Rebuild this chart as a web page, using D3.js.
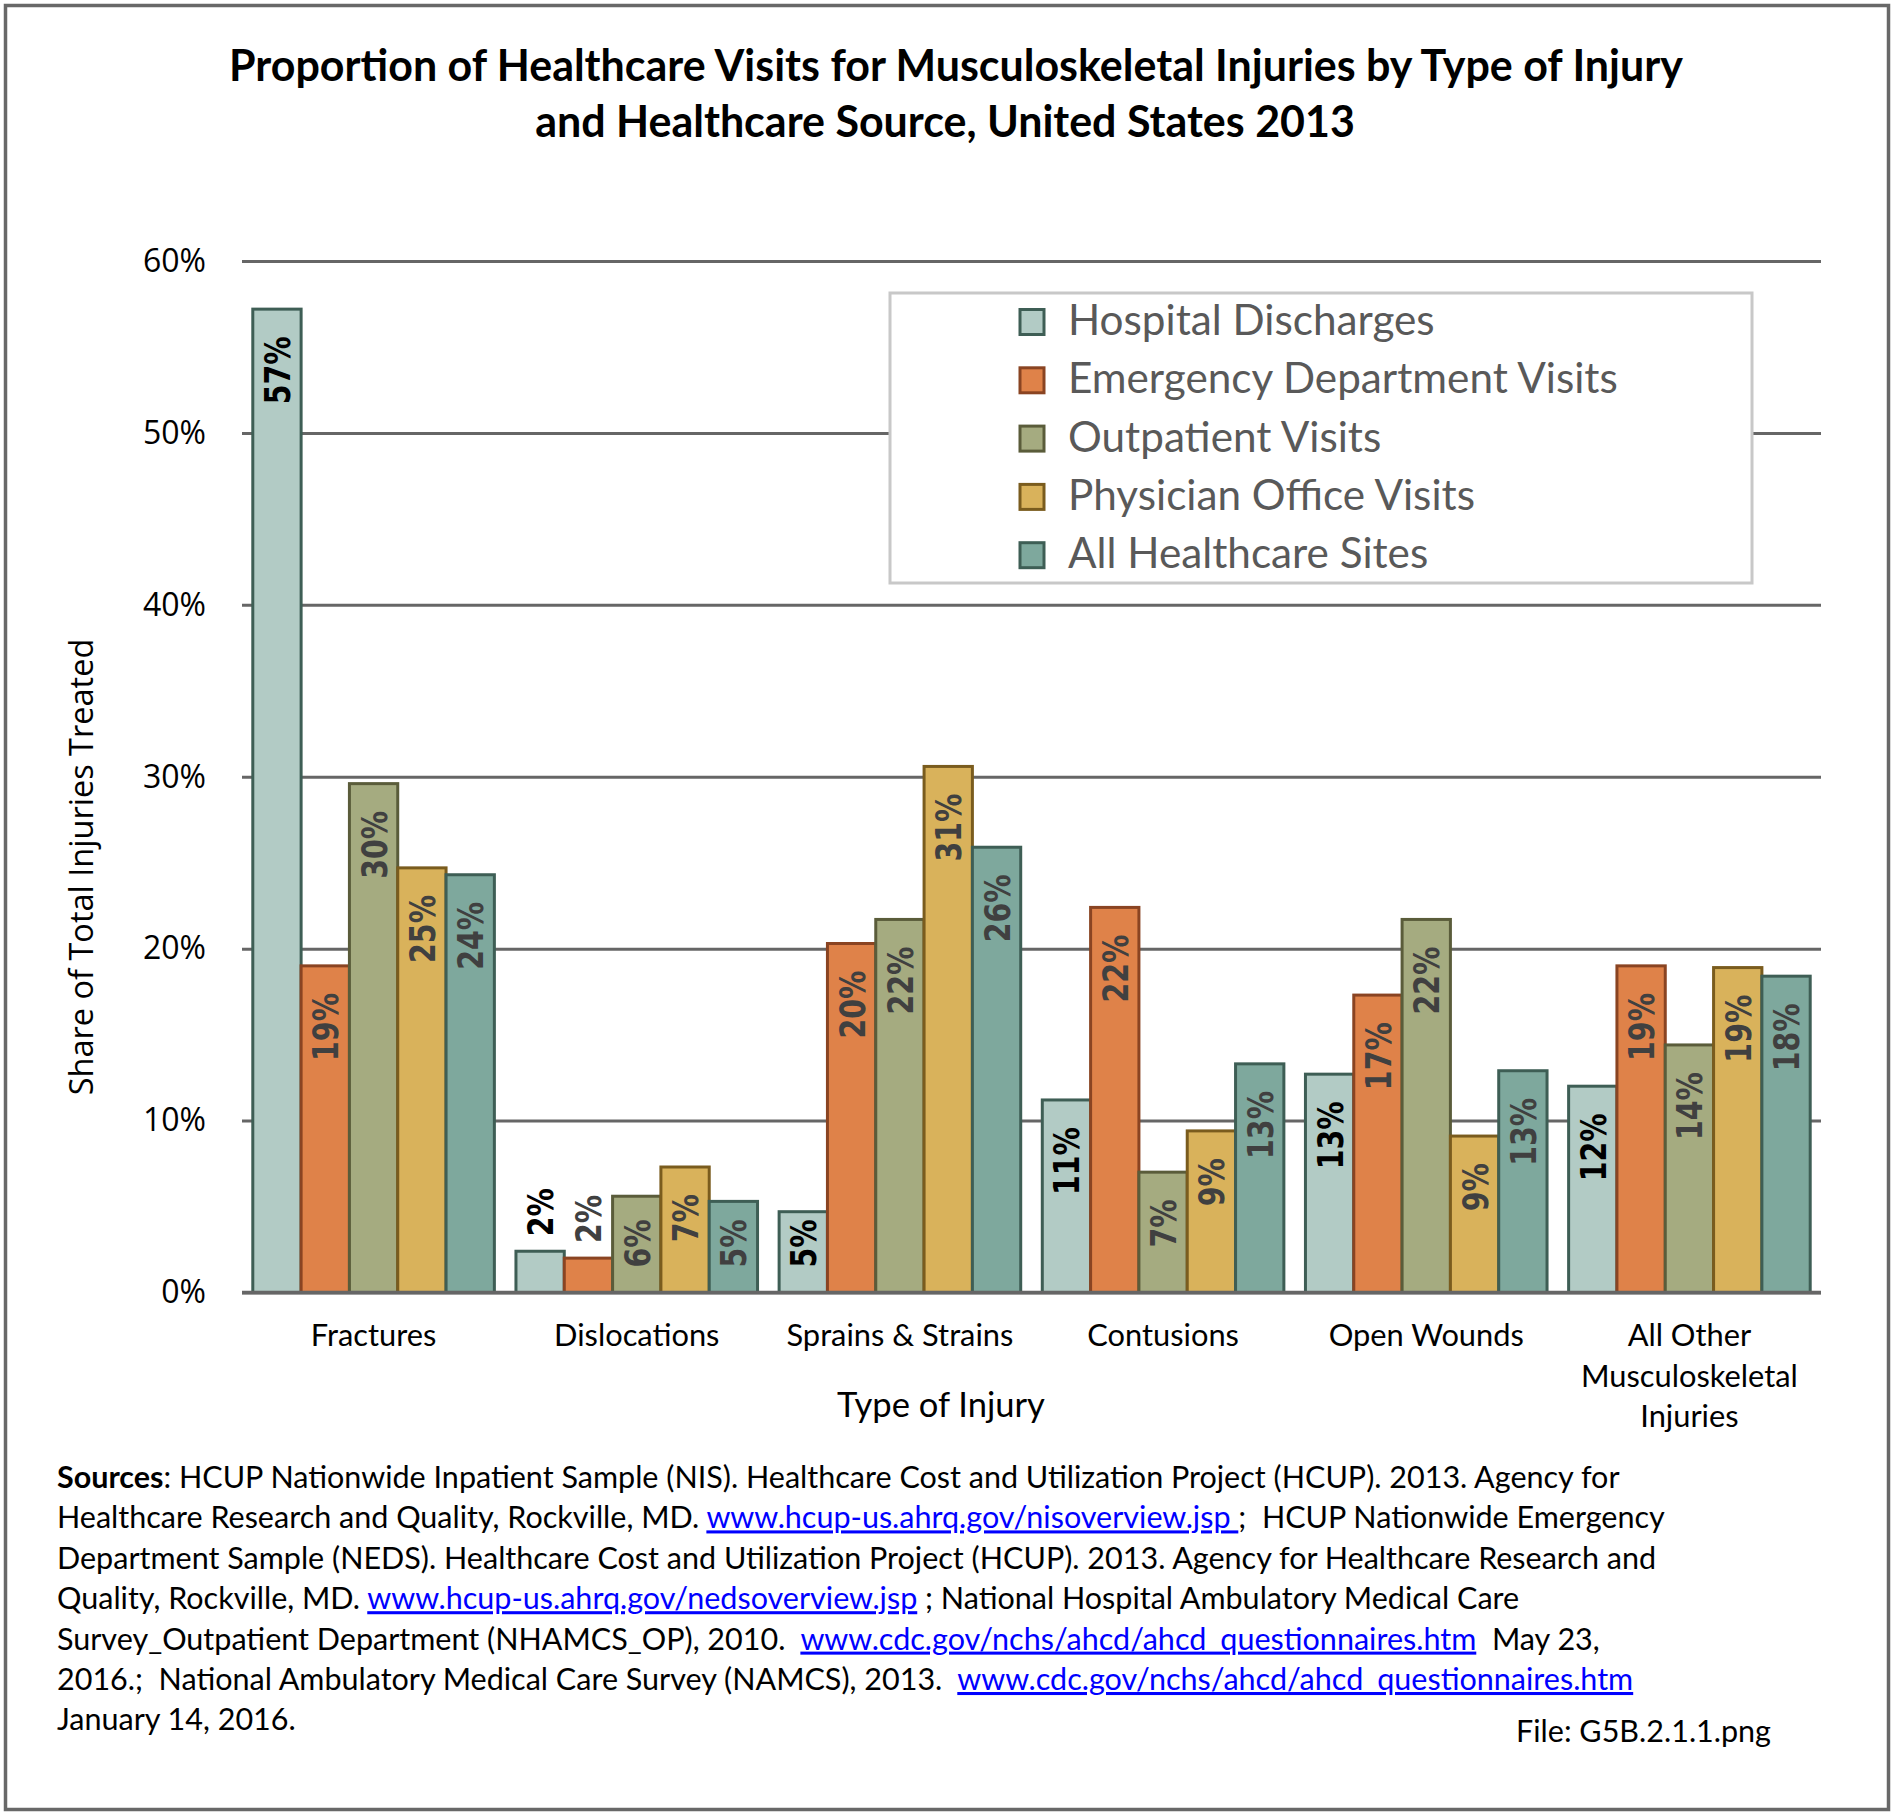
<!DOCTYPE html>
<html><head><meta charset="utf-8">
<script src="https://cdn.jsdelivr.net/npm/d3@7"></script>
<style>body{margin:0;background:#fff} svg{display:block} text{white-space:pre}</style>
</head><body>
<svg id="c" width="1892" height="1813"></svg>
<script>
// ---------------- DATA ----------------
const categories = ["Fractures", "Dislocations", "Sprains & Strains", "Contusions", "Open Wounds", "All Other Musculoskeletal Injuries"];
const seriesNames = ["Hospital Discharges", "Emergency Department Visits", "Outpatient Visits", "Physician Office Visits", "All Healthcare Sites"];
const hospitalDischarges = [57.2, 2.4, 4.7, 11.2, 12.7, 12.0];
const emergencyDepartment = [19.0, 2.0, 20.3, 22.4, 17.3, 19.0];
const outpatientVisits   = [29.6, 5.6, 21.7, 7.0, 21.7, 14.4];
const physicianOffice    = [24.7, 7.3, 30.6, 9.4, 9.1, 18.9];
const allHealthcareSites = [24.3, 5.3, 25.9, 13.3, 12.9, 18.4];
const yTicks = [0, 10, 20, 30, 40, 50, 60];
const titleLines = ["Proportion of Healthcare Visits for Musculoskeletal Injuries by Type of Injury", "and Healthcare Source, United States 2013"];
const yTitle = "Share of Total Injuries Treated";
const xTitle = "Type of Injury";
const fileNote = "File: G5B.2.1.1.png";
const sourceLines = [
  [{t:"Sources", b:true}, {t:": HCUP Nationwide Inpatient Sample (NIS). Healthcare Cost and Utilization Project (HCUP). 2013. Agency for"}],
  [{t:"Healthcare Research and Quality, Rockville, MD. "}, {t:"www.hcup-us.ahrq.gov/nisoverview.jsp ", l:true}, {t:";  HCUP Nationwide Emergency"}],
  [{t:"Department Sample (NEDS). Healthcare Cost and Utilization Project (HCUP). 2013. Agency for Healthcare Research and"}],
  [{t:"Quality, Rockville, MD. "}, {t:"www.hcup-us.ahrq.gov/nedsoverview.jsp", l:true}, {t:" ; National Hospital Ambulatory Medical Care"}],
  [{t:"Survey_Outpatient Department (NHAMCS_OP), 2010.  "}, {t:"www.cdc.gov/nchs/ahcd/ahcd_questionnaires.htm", l:true}, {t:"  May 23,"}],
  [{t:"2016.;  National Ambulatory Medical Care Survey (NAMCS), 2013.  "}, {t:"www.cdc.gov/nchs/ahcd/ahcd_questionnaires.htm", l:true}],
  [{t:"January 14, 2016."}]
];

// ---------------- STYLE ----------------
const fills   = ["#b2cbc5", "#df8249", "#a5ab80", "#d9b25b", "#7ea89d"];
const strokes = ["#3e5e55", "#8a4422", "#5a5c3a", "#7a5c1e", "#3e5e55"];
const labelColors = ["#000000", "#404040", "#404040", "#404040", "#404040"];
const seriesValues = [hospitalDischarges, emergencyDepartment, outpatientVisits, physicianOffice, allHealthcareSites];

const svg = d3.select("#c");
const W = 1892, H = 1813;
const plot = {left: 242, right: 1821, top: 261, bottom: 1292.5};
const CAL = "Lato, 'Open Sans', sans-serif";

function fitWidth(sel, target) {
  const w = sel.node().getComputedTextLength();
  const fs = parseFloat(sel.attr("font-size"));
  const nf = fs * target / w;
  sel.attr("font-size", nf);
  return nf;
}

// border
svg.append("rect").attr("x", 5.5).attr("y", 5.5).attr("width", W - 9).attr("height", H - 9)
  .attr("fill", "#fff").attr("stroke", "#686868").attr("stroke-width", 3.5);

// title
const tCenters = [956, 945], tBase = [81, 137], tWidths = [1454, 812];
let titleFs;
titleLines.forEach((s, i) => {
  const t = svg.append("text").attr("x", tCenters[i]).attr("y", tBase[i]).attr("text-anchor", "middle")
    .attr("font-family", CAL).attr("font-weight", "bold").attr("font-size", 40).attr("fill", "#000").text(s);
  if (i === 0) titleFs = fitWidth(t, tWidths[0]); else t.attr("font-size", titleFs);
});

// scales
const x = d3.scaleBand().domain(categories).range([plot.left, plot.right]).paddingInner(0.082).paddingOuter(0.041);
const x1 = d3.scaleBand().domain(seriesNames).range([0, x.bandwidth()]);
const y = d3.scaleLinear().domain([0, 60]).range([plot.bottom, plot.top]);

// y axis with gridlines
const yAxis = svg.append("g").attr("transform", `translate(${plot.left},0)`)
  .call(d3.axisLeft(y).tickValues(yTicks).tickFormat(d => d + "%").tickSizeInner(-(plot.right - plot.left)).tickSizeOuter(0).tickPadding(36));
yAxis.select(".domain").remove();
yAxis.selectAll(".tick line").attr("stroke", "#666").attr("stroke-width", 3);
yAxis.selectAll(".tick text").attr("font-family", "'Open Sans', sans-serif").attr("font-size", 32).attr("fill", "#000");

// y title
const yt = svg.append("text").attr("transform", "translate(93,867) rotate(-90)").attr("text-anchor", "middle")
  .attr("font-family", "'Open Sans', sans-serif").attr("font-size", 32).attr("fill", "#000").text(yTitle);
fitWidth(yt, 457);

// bars
const data = categories.map((c, ci) => ({cat: c, items: seriesNames.map((s, si) => ({key: s, si, v: seriesValues[si][ci]}))}));
const groups = svg.append("g").selectAll("g").data(data).join("g").attr("transform", d => `translate(${x(d.cat)},0)`);
groups.selectAll("rect").data(d => d.items).join("rect")
  .attr("x", d => x1(d.key)).attr("width", x1.bandwidth())
  .attr("y", d => y(d.v)).attr("height", d => y(0) - y(d.v))
  .attr("fill", d => fills[d.si]).attr("stroke", d => strokes[d.si]).attr("stroke-width", 3);

// baseline
svg.append("line").attr("x1", plot.left).attr("x2", plot.right).attr("y1", y(0)).attr("y2", y(0))
  .attr("stroke", "#666").attr("stroke-width", 3.5);

// bar labels
const LS = 0.79;
groups.selectAll("text.lbl").data(d => d.items).join("text").attr("class", "lbl")
  .attr("font-family", "'DejaVu Sans', Verdana, sans-serif").attr("font-weight", "bold").attr("font-size", 36)
  .attr("fill", d => labelColors[d.si])
  .text(d => Math.round(d.v) + "%")
  .each(function(d) {
    const len = this.getComputedTextLength() * LS;
    const top = y(d.v), base = y(0);
    let start = top + 27 + len;
    if (start > base - 25) start = base - 25;
    if (start - len < top) start = top - 15;
    const bx = x1(d.key) + x1.bandwidth() / 2 + 13;
    d3.select(this).attr("transform", `translate(${bx},${start}) rotate(-90) scale(${LS},1)`);
  });

// x axis category labels
const probe = svg.append("text").attr("font-family", CAL).attr("font-size", 30).text("Sprains & Strains");
const catFs = fitWidth(probe, 227);
probe.remove();
const xAxis = svg.append("g").attr("transform", `translate(0,${plot.bottom})`)
  .call(d3.axisBottom(x).tickSize(0).tickPadding(0));
xAxis.select(".domain").remove();
xAxis.selectAll(".tick text").each(function(d) {
  const t = d3.select(this).attr("font-family", CAL).attr("font-size", catFs).attr("fill", "#000").attr("y", 0).attr("dy", null).text(null);
  const words = d.split(" ");
  const lines = []; let cur = [];
  const meas = svg.append("text").attr("font-family", CAL).attr("font-size", catFs);
  words.forEach(w => {
    const test = cur.concat([w]).join(" ");
    meas.text(test);
    if (meas.node().getComputedTextLength() > x.bandwidth() - 8 && cur.length) { lines.push(cur.join(" ")); cur = [w]; }
    else cur.push(w);
  });
  lines.push(cur.join(" "));
  meas.remove();
  lines.forEach((ln, i) => t.append("tspan").attr("x", 0).attr("y", 53.5 + i * 40.5).text(ln));
});

// x title
const xt = svg.append("text").attr("x", 941).attr("y", 1417).attr("text-anchor", "middle")
  .attr("font-family", CAL).attr("font-size", 32).attr("fill", "#000").text(xTitle);
fitWidth(xt, 208);

// legend
const lg = svg.append("g");
lg.append("rect").attr("x", 890).attr("y", 293).attr("width", 862).attr("height", 290)
  .attr("fill", "#fff").attr("stroke", "#c8c8c8").attr("stroke-width", 3);
const lprobe = svg.append("text").attr("font-family", CAL).attr("font-size", 40).text(seriesNames[1]);
const legFs = fitWidth(lprobe, 550);
lprobe.remove();
seriesNames.forEach((s, i) => {
  const cy = 322 + i * 58.3;
  lg.append("rect").attr("x", 1020).attr("y", cy - 12.5).attr("width", 24).attr("height", 25)
    .attr("fill", fills[i]).attr("stroke", strokes[i]).attr("stroke-width", 3);
  lg.append("text").attr("x", 1068).attr("y", cy + 13).attr("font-family", CAL).attr("font-size", legFs)
    .attr("fill", "#595959").text(s);
});

// sources
let srcFs = 30;
sourceLines.forEach((segs, i) => {
  const t = svg.append("text").attr("x", 57).attr("y", 1488 + i * 40.4).attr("font-family", CAL).attr("font-size", srcFs).attr("fill", "#000");
  segs.forEach(sg => {
    const ts = t.append("tspan").text(sg.t);
    if (sg.b) ts.attr("font-weight", "bold");
    if (sg.l) ts.attr("fill", "#0000ff").style("text-decoration", "underline");
  });
  if (i === 0) { srcFs = fitWidth(t, 1563); }
});
svg.selectAll("text").filter(function() { return +d3.select(this).attr("y") >= 1480 && d3.select(this).attr("x") == 57; }).attr("font-size", srcFs);

svg.append("text").attr("x", 1771).attr("y", 1742).attr("text-anchor", "end").attr("font-family", CAL)
  .attr("font-size", srcFs).attr("fill", "#000").text(fileNote);
</script>
</body></html>
